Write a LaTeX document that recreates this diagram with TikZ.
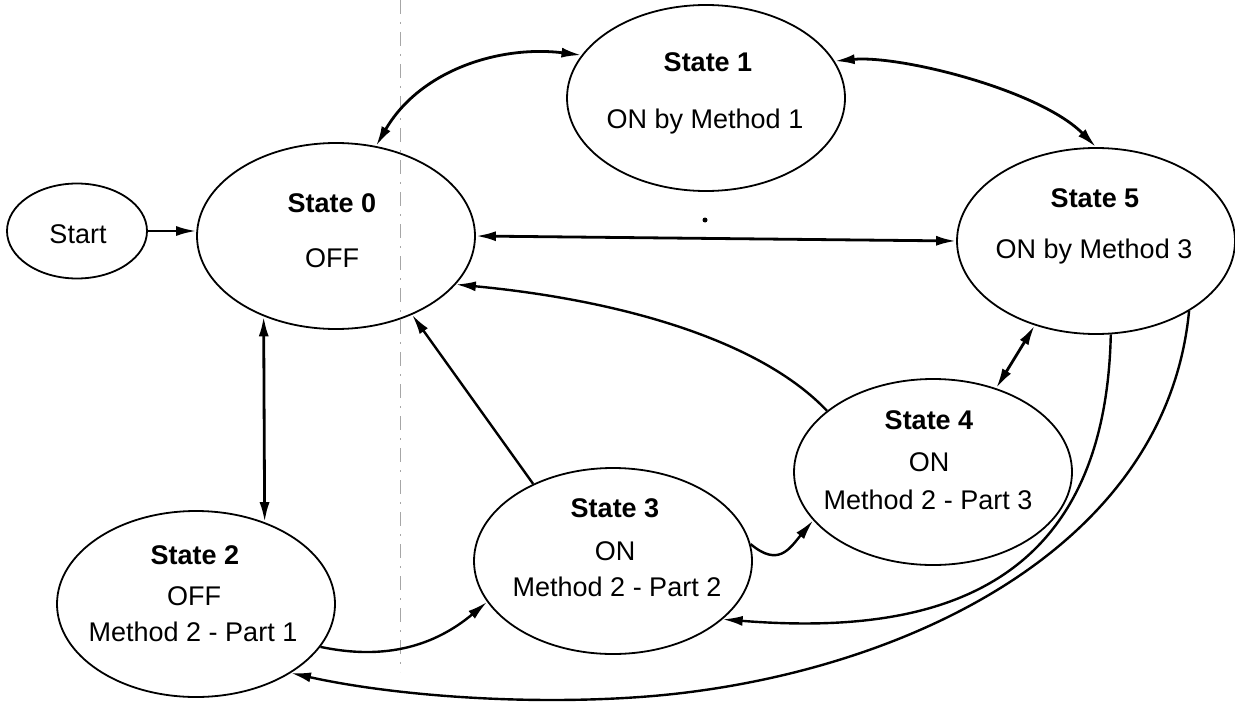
\documentclass[tikz,border=0pt]{standalone}
\usepackage{fontspec}
\setmainfont{Liberation Sans}
\usetikzlibrary{arrows.meta,shapes.geometric}
\begin{document}
\begin{tikzpicture}[x=0.5pt,y=-0.5pt,
  state/.style={draw,ellipse,line width=0.9pt,minimum width=139pt,minimum height=93pt,inner sep=0pt},
  startst/.style={draw,ellipse,line width=0.9pt,minimum width=70pt,minimum height=47.5pt,inner sep=0pt},
  lbl/.style={anchor=base,inner sep=0pt,font=\fontsize{13.5}{16}\selectfont},
  ttl/.style={anchor=base,inner sep=0pt,font=\fontsize{13.5}{16}\selectfont\bfseries},
  conn/.style={line width=1.2pt,-{Latex[length=10pt,width=5pt]}},
  dconn/.style={line width=1.4pt,{Latex[length=10pt,width=5pt]}-{Latex[length=10pt,width=5pt]}},
  fold/.style={gray!70,line width=0.4pt,dash pattern=on 7pt off 4pt on 1pt off 4pt},
]
\useasboundingbox (0,0) rectangle (1235,706);

% fold line of the scan
\draw[fold] (400,0) -- (400,672);
\fill (705,220) circle (2.5);

% states
\node[startst] (start) at (77,231) {};
\node[lbl] (startt) at (78,243) {Start};

\node[state] (s0) at (336,236) {};
\node[ttl] (s0t) at (332,212) {State 0};
\node[lbl] (s0s) at (332,267) {OFF};

\node[state] (s1) at (706,98) {};
\node[ttl] (s1t) at (708,72) {State 1};
\node[lbl] (s1s) at (705,128) {ON by Method 1};

\node[state] (s5) at (1096,241) {};
\node[ttl] (s5t) at (1095,207) {State 5};
\node[lbl] (s5s) at (1094,258) {ON by Method 3};

\node[state] (s4) at (933,472) {};
\node[ttl] (s4t) at (929,429) {State 4};
\node[lbl] (s4a) at (929,471) {ON};
\node[lbl] (s4b) at (928,509) {Method 2 - Part 3};

\node[state] (s3) at (613,561) {};
\node[ttl] (s3t) at (615,517) {State 3};
\node[lbl] (s3a) at (615,560) {ON};
\node[lbl] (s3b) at (617,596) {Method 2 - Part 2};

\node[state] (s2) at (196,604) {};
\node[ttl] (s2t) at (195,564) {State 2};
\node[lbl] (s2a) at (194,605) {OFF};
\node[lbl] (s2b) at (193,641) {Method 2 - Part 1};

% connectors
\draw[conn] (start.east) -- (start.east -| s0.west);
\draw[dconn] (s0.66) .. controls (420,70) and (500,45) .. (s1.161);
\draw[dconn] (s1.16) .. controls (900,55) and (1040,90) .. (s5.90);
\draw[dconn] (s0.east) -- (s5.west);
\draw[dconn] (s0.228) -- (s2.50);
\draw[conn] (s2.-19) to[out=-12,in=-140] (s3.198);
\draw[conn] (s3.136) -- (s0.-46);
\draw[conn] (s4.150) .. controls (760,340) and (620,300) .. (s0.-22);
\draw[conn] (s3.7) to[out=-40,in=-130,looseness=1.4] (s4.202);
\draw[dconn] (s4.53) -- (s5.234);
\draw[conn] (s5.-81) .. controls (1105,600) and (920,635) .. (s3.-28);
\draw[conn] (s5.-37) .. controls (1165,560) and (880,680) .. (640,697)
  .. controls (520,705.5) and (390,695) .. (s2.-36);
\end{tikzpicture}
\end{document}
